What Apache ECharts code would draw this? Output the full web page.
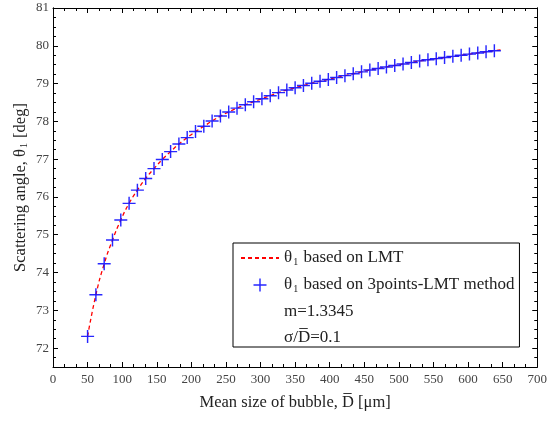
<!DOCTYPE html>
<html>
<head>
<meta charset="utf-8">
<script src="https://cdn.jsdelivr.net/npm/echarts@6/dist/echarts.min.js"></script>
<style>html,body{margin:0;padding:0;background:#fff}#c{width:550px;height:421px}</style>
</head>
<body>
<div id="c"></div>
<script>
// Mean bubble size (µm) of the 3points-LMT markers
const markerD = [50,62,74,86,98,110,122,134,146,158,170,182,194,206,218,230,242,254,266,278,290,302,314,326,338,350,362,374,386,398,410,422,434,446,458,470,482,494,506,518,530,542,554,566,578,590,602,614,626,638];
// Scattering angle (deg) from the 3points-LMT method
const markerTheta = [72.31,73.41,74.23,74.86,75.39,75.83,76.18,76.49,76.75,76.99,77.20,77.40,77.57,77.73,77.87,78.01,78.14,78.25,78.35,78.44,78.52,78.60,78.68,78.76,78.83,78.89,78.95,79.01,79.06,79.11,79.16,79.21,79.26,79.31,79.36,79.40,79.44,79.48,79.52,79.56,79.60,79.63,79.66,79.69,79.72,79.75,79.78,79.81,79.84,79.87];
// LMT curve
const lmtD = [50,62,74,86,98,110,122,134,146,158,170,182,194,206,218,230,242,254,266,278,290,302,314,326,338,350,362,374,386,398,410,422,434,446,458,470,482,494,506,518,530,542,554,566,578,590,602,614,626,638,650];
const lmtTheta = [72.31,73.41,74.23,74.86,75.39,75.83,76.18,76.49,76.75,76.99,77.20,77.40,77.57,77.73,77.87,78.01,78.14,78.25,78.35,78.44,78.52,78.60,78.68,78.76,78.83,78.89,78.95,79.01,79.06,79.11,79.16,79.21,79.26,79.31,79.36,79.40,79.44,79.48,79.52,79.56,79.60,79.63,79.66,79.69,79.72,79.75,79.78,79.81,79.84,79.87,79.90];
// Axis ticks
const yMajorTicks = [72,73,74,75,76,77,78,79,80,81];
const yMinorTicks = [71.75,72.25,72.5,72.75,73.25,73.5,73.75,74.25,74.5,74.75,75.25,75.5,75.75,76.25,76.5,76.75,77.25,77.5,77.75,78.25,78.5,78.75,79.25,79.5,79.75,80.25,80.5,80.75];
const xLabels = ['0','50','100','150','200','250','300','350','400','450','500','550','600','650','700'];

const legendText = {
  lmt: '{a|θ}{s|1}{a| based on LMT}',
  pts: '{a|θ}{s|1}{a| based on 3points-LMT method}',
  m: '{p|m=1.3345}',
  sig: '{p|σ/D\u0305=0.1}'
};
const FONT = '"Liberation Serif", "DejaVu Serif", serif';
const FS = 16.5;
const LFS = 17;
const rich = {
  a: {fontFamily: FONT, fontSize: LFS, color: '#222', lineHeight: 21},
  p: {fontFamily: FONT, fontSize: LFS, color: '#222', lineHeight: 15.5},
  g: {fontFamily: FONT, fontSize: FS, color: '#222'},
  s: {fontFamily: FONT, fontSize: 10, color: '#222', lineHeight: 10, padding: [8, 1, 0, 1]}
};

const chart = echarts.init(document.getElementById('c'), null, {renderer: 'canvas'});
const plusPath = 'path://M0,4.45H10V5.55H0Z M4.45,0H5.55V10H4.45Z';
const yBase = {type: 'value', min: 71.5, max: 81, splitLine: {show: false},
  axisLine: {show: true, onZero: false, lineStyle: {color: '#000', width: 1}}};
const xBase = {type: 'value', min: 0, max: 700, interval: 50, splitLine: {show: false},
  axisLine: {show: true, onZero: false, lineStyle: {color: '#000', width: 1}},
  axisTick: {inside: true, length: 5, lineStyle: {color: '#000'}},
  minorTick: {show: true, splitNumber: 3, length: 3, lineStyle: {color: '#000'}}};

chart.setOption({
  animation: false,
  backgroundColor: '#fff',
  grid: {left: 53, right: 9, top: 8, bottom: 54, containLabel: false},
  xAxis: [
    Object.assign({}, xBase, {position: 'bottom',
      name: 'Mean size of bubble, D\u0305 [μm]', nameLocation: 'middle', nameGap: 27,
      nameTextStyle: {fontFamily: FONT, fontSize: FS, color: '#222'},
      axisLabel: {margin: 6, fontFamily: FONT, fontSize: 13, color: '#444',
        formatter: (v) => xLabels[Math.round(v / 50)]}}),
    Object.assign({}, xBase, {position: 'top', axisLabel: {show: false}})
  ],
  yAxis: [
    Object.assign({}, yBase, {position: 'left',
      name: '{g|Scattering angle, θ}{s|1}{g| [deg]}', nameLocation: 'middle', nameGap: 24,
      nameMoveOverlap: false,
      nameTextStyle: {fontFamily: FONT, fontSize: FS, color: '#222', rich: rich},
      axisTick: {inside: true, length: 5, customValues: yMajorTicks, lineStyle: {color: '#000'}},
      axisLabel: {margin: 4, fontFamily: FONT, fontSize: 13, color: '#444', customValues: yMajorTicks}}),
    Object.assign({}, yBase, {position: 'left',
      axisTick: {inside: true, length: 3, customValues: yMinorTicks, lineStyle: {color: '#000'}},
      axisLabel: {show: false, customValues: yMinorTicks}}),
    Object.assign({}, yBase, {position: 'right',
      axisTick: {inside: true, length: 5, customValues: yMajorTicks, lineStyle: {color: '#000'}},
      axisLabel: {show: false, customValues: yMajorTicks}}),
    Object.assign({}, yBase, {position: 'right',
      axisTick: {inside: true, length: 3, customValues: yMinorTicks, lineStyle: {color: '#000'}},
      axisLabel: {show: false, customValues: yMinorTicks}})
  ],
  legend: {
    show: true, orient: 'vertical', left: 233, top: 243,
    padding: [6, 5, 1, 7], borderColor: '#000', borderWidth: 1,
    itemWidth: 38, itemHeight: 13, itemGap: 9,
    data: [
      {name: 'lmt', itemStyle: {opacity: 0}},
      {name: 'pts'},
      {name: 'm', icon: 'rect', itemStyle: {opacity: 0}},
      {name: 'sig', icon: 'rect', itemStyle: {opacity: 0}}
    ],
    formatter: (n) => legendText[n],
    textStyle: {fontFamily: FONT, fontSize: LFS, color: '#222', rich: rich}
  },
  series: [
    {name: 'lmt', type: 'line', xAxisIndex: 0, yAxisIndex: 0, symbol: 'none', showSymbol: false, smooth: true,
      data: lmtD.map((d, i) => [d, lmtTheta[i]]),
      lineStyle: {color: '#ff0000', width: 1.3, type: [4, 3]}, itemStyle: {color: '#ff0000'}, z: 2},
    {name: 'pts', type: 'scatter', xAxisIndex: 0, yAxisIndex: 0, symbol: plusPath, symbolSize: 13,
      data: markerD.map((d, i) => [d, markerTheta[i]]),
      itemStyle: {color: '#1010ff', opacity: 0.9}, z: 3},
    {name: 'm', type: 'line', symbol: 'none', data: []},
    {name: 'sig', type: 'line', symbol: 'none', data: []}
  ]
});
</script>
</body>
</html>
